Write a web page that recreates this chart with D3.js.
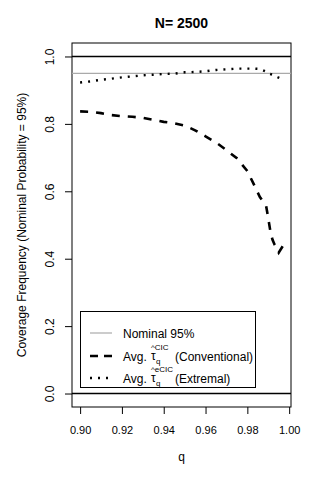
<!doctype html>
<html lang="en">
<head>
  <meta charset="utf-8">
  <title>Coverage frequency, N = 2500</title>
  <script src="https://d3js.org/d3.v7.min.js"></script>
  <style>
    body { margin: 0; background: #fff; }
    text { font-family: "Liberation Sans", Arial, sans-serif; }
  </style>
</head>
<body>
  <div id="chart"></div>
  <script type="text/javascript">

    var width = 320, height = 480;

    // quantile grid and coverage frequencies
    var q = [0.900, 0.905, 0.910, 0.915, 0.920, 0.925, 0.930, 0.935, 0.940, 0.945,
             0.950, 0.955, 0.960, 0.965, 0.970, 0.975, 0.980, 0.983, 0.986, 0.989,
             0.990, 0.991, 0.992, 0.993, 0.995, 0.997];
    var conventional = [0.837, 0.836, 0.832, 0.826, 0.823, 0.821, 0.818, 0.812, 0.806, 0.802,
                        0.795, 0.781, 0.763, 0.745, 0.722, 0.698, 0.660, 0.622, 0.583, 0.556,
                        0.520, 0.482, 0.457, 0.442, 0.418, 0.438];
    var extremal = [0.923, 0.926, 0.931, 0.934, 0.938, 0.941, 0.944, 0.946, 0.948, 0.949,
                    0.953, 0.954, 0.956, 0.960, 0.962, 0.964, 0.964, 0.964, 0.963, 0.955,
                    0.950, 0.948, 0.946, 0.943, 0.937, 0.932];
    var nominal = 0.95;
    var refLines = [0, 1];

    var xTicks = [0.90, 0.92, 0.94, 0.96, 0.98, 1.00];
    var yTicks = [0.0, 0.2, 0.4, 0.6, 0.8, 1.0];
    var ylim = [0, 1];

    var title = 'N= 2500';
    var xLabel = 'q';
    var yLabel = 'Coverage Frequency (Nominal Probability = 95%)';

    // plot region, like R's default margins
    var plotL = 72, plotR = 291, plotT = 43, plotB = 407;
    var font = '"Liberation Sans", Arial, sans-serif';

    // R pads the data range by 4% on each side
    function pad(ext) {
      var d = (ext[1] - ext[0]) * 0.04;
      return [ext[0] - d, ext[1] + d];
    }

    var x = d3.scaleLinear().domain(pad(d3.extent(q))).range([plotL, plotR]);
    var y = d3.scaleLinear().domain(pad(ylim)).range([plotB, plotT]);

    var svg = d3.select('#chart')
                .append('svg')
                .attr('width', width)
                .attr('height', height);

    svg.append('rect')
       .attr('width', width).attr('height', height)
       .attr('fill', '#fff');

    // x axis
    var xAxis = svg.append('g')
                   .attr('transform', 'translate(0,' + plotB + ')')
                   .call(d3.axisBottom(x).tickValues(xTicks).tickSize(7).tickPadding(12)
                           .tickFormat(d3.format('.2f')));
    xAxis.select('.domain').remove();
    xAxis.selectAll('text').attr('font-size', 11).attr('fill', '#000')
         .style('font-family', font);

    // y axis, labels turned like R does
    var yAxis = svg.append('g')
                   .attr('transform', 'translate(' + plotL + ',0)')
                   .call(d3.axisLeft(y).tickValues(yTicks).tickSize(7)
                           .tickFormat(d3.format('.1f')));
    yAxis.select('.domain').remove();
    yAxis.selectAll('text')
         .attr('transform', 'rotate(-90)')
         .attr('x', 0).attr('y', -22).attr('dy', '0.35em')
         .attr('text-anchor', 'middle')
         .attr('font-size', 12).attr('fill', '#000')
         .style('font-family', font);

    // box round the plot
    svg.append('rect')
       .attr('x', plotL).attr('y', plotT)
       .attr('width', plotR - plotL).attr('height', plotB - plotT)
       .attr('fill', 'none').attr('stroke', '#000').attr('stroke-width', 1);

    // reference lines
    svg.selectAll('.ref')
       .data(refLines)
       .enter()
       .append('line')
       .attr('x1', plotL).attr('x2', plotR)
       .attr('y1', function(d) { return y(d); })
       .attr('y2', function(d) { return y(d); })
       .attr('stroke', '#000').attr('stroke-width', 1.3);

    svg.append('line')
       .attr('x1', plotL).attr('x2', plotR)
       .attr('y1', y(nominal)).attr('y2', y(nominal))
       .attr('stroke', '#aaaaaa').attr('stroke-width', 1.2);

    var line = d3.line()
                 .x(function(d) { return x(d[0]); })
                 .y(function(d) { return y(d[1]); });

    svg.append('path')
       .attr('d', line(d3.zip(q, conventional)))
       .attr('fill', 'none').attr('stroke', '#000')
       .attr('stroke-width', 2.6).attr('stroke-dasharray', '8,8');

    svg.append('path')
       .attr('d', line(d3.zip(q, extremal)))
       .attr('fill', 'none').attr('stroke', '#000')
       .attr('stroke-width', 2.4).attr('stroke-dasharray', '2,6');

    // titles
    svg.append('text')
       .attr('x', (plotL + plotR) / 2).attr('y', 28)
       .attr('text-anchor', 'middle')
       .attr('font-size', 14).attr('font-weight', 'bold')
       .text(title);

    svg.append('text')
       .attr('x', (plotL + plotR) / 2).attr('y', 461)
       .attr('text-anchor', 'middle')
       .attr('font-size', 12)
       .text(xLabel);

    svg.append('text')
       .attr('transform', 'translate(26,' + (plotT + plotB) / 2 + ') rotate(-90)')
       .attr('text-anchor', 'middle')
       .attr('font-size', 12)
       .text(yLabel);

    // legend
    var legend = svg.append('g');
    legend.append('rect')
          .attr('x', 80.5).attr('y', 311.5)
          .attr('width', 175).attr('height', 76)
          .attr('fill', '#fff').attr('stroke', '#000').attr('stroke-width', 1);

    var rows = [
      { y: 333, stroke: '#aaaaaa', w: 1.2, dash: null, label: 'Nominal 95%' },
      { y: 356, stroke: '#000', w: 2.6, dash: '8,6', sup: '^CIC', label: '(Conventional)' },
      { y: 378, stroke: '#000', w: 2.4, dash: '2,6', sup: '^eCIC', label: '(Extremal)' }
    ];

    var row = legend.selectAll('.row')
                    .data(rows)
                    .enter()
                    .append('g')
                    .attr('transform', function(d) { return 'translate(0,' + d.y + ')'; });

    row.append('line')
       .attr('x1', 90).attr('x2', 112)
       .attr('stroke', function(d) { return d.stroke; })
       .attr('stroke-width', function(d) { return d.w; })
       .attr('stroke-dasharray', function(d) { return d.dash; });

    row.filter(function(d) { return !d.sup; })
       .append('text')
       .attr('x', 123).attr('y', 4.5)
       .attr('font-size', 12)
       .text(function(d) { return d.label; });

    var math = row.filter(function(d) { return d.sup; });
    math.append('text').attr('x', 123).attr('y', 4.5).attr('font-size', 12).text('Avg.');
    math.append('text').attr('x', 151).attr('y', 3.5).attr('font-size', 12).text('τ');
    math.append('text').attr('x', 151).attr('y', -6.5).attr('font-size', 8)
        .text(function(d) { return d.sup; });
    math.append('text').attr('x', 156).attr('y', 7.5).attr('font-size', 8).text('q');
    math.append('text').attr('x', 175).attr('y', 4.5).attr('font-size', 12)
        .text(function(d) { return d.label; });

  </script>
</body>
</html>
